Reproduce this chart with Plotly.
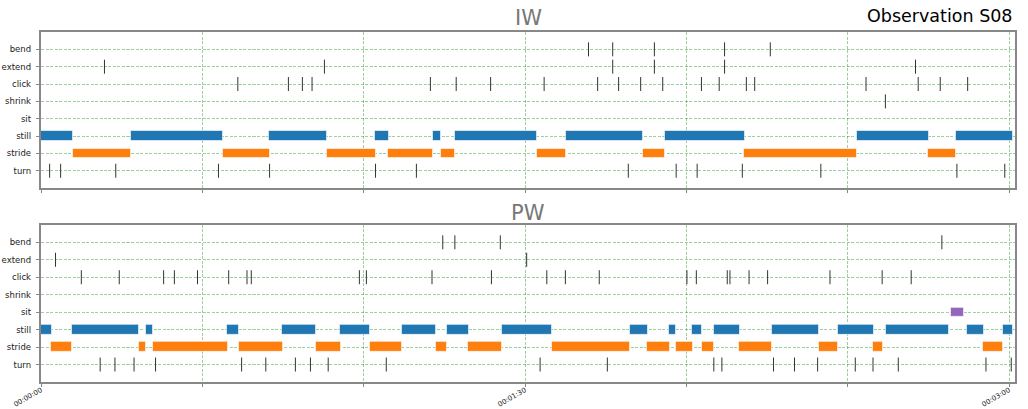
import plotly.graph_objects as go

categories = ['bend', 'extend', 'click', 'shrink', 'sit', 'still', 'stride', 'turn']
x_tickvals = [0, 30, 60, 90, 120, 150, 180]
x_ticktext = ['00:00:00', '', '', '00:01:30', '', '', '00:03:00']

# ---- IW (intervals in seconds: start, end) ----
iw_still = [(0.0, 6.0), (16.65, 33.8), (42.4, 53.2), (62.1, 64.7), (72.8, 74.4), (76.9, 92.2),
            (97.6, 111.95), (116.0, 130.9), (151.7, 165.05), (170.1, 180.7)]
iw_stride = [(5.95, 16.7), (33.75, 42.5), (53.2, 62.2), (64.6, 72.9), (74.3, 77.0), (92.2, 97.6),
             (111.9, 116.05), (130.8, 151.8), (165.0, 170.2)]
iw_sit = []
iw_turn = [1.6, 3.65, 13.9, 33.0, 42.5, 62.2, 69.8, 109.2, 118.1, 122.0, 130.4, 145.0, 170.3, 179.2]
iw_click = [36.6, 46.0, 48.6, 50.4, 72.4, 77.2, 83.6, 93.55, 103.5, 107.4, 111.5, 115.6, 122.8,
            126.1, 131.15, 132.7, 153.4, 163.1, 167.2, 172.3]
iw_extend = [11.8, 52.7, 106.3, 114.05, 127.1, 162.6]
iw_bend = [101.8, 106.3, 114.05, 127.1, 135.6]
iw_shrink = [157.0]

# ---- PW ----
pw_still = [(0.0, 2.04), (5.76, 18.3), (19.5, 20.9), (34.6, 36.9), (44.85, 51.2), (55.6, 61.2),
            (67.2, 73.5), (75.5, 79.55), (85.7, 95.0), (109.5, 112.9), (116.8, 118.1), (121.1, 122.9),
            (125.1, 129.9), (135.9, 144.7), (148.2, 154.8), (157.2, 168.8), (172.2, 175.3), (178.8, 180.7)]
pw_stride = [(1.9, 5.8), (18.2, 19.6), (20.75, 34.7), (36.8, 45.0), (51.1, 55.7), (61.1, 67.2),
             (73.4, 75.5), (79.4, 85.8), (95.0, 109.6), (112.75, 116.9), (118.1, 121.2), (122.9, 125.15),
             (129.85, 135.9), (144.7, 148.2), (154.7, 156.6), (175.2, 178.9)]
pw_sit = [(169.2, 171.6)]
pw_turn = [11.0, 13.75, 17.3, 21.3, 37.3, 41.8, 47.3, 50.1, 53.4, 64.2, 92.8, 105.3, 125.1, 126.6,
           136.2, 140.1, 144.4, 151.4, 154.7, 159.4, 175.7, 180.4]
pw_click = [7.5, 14.55, 22.8, 24.8, 29.1, 34.9, 38.3, 39.1, 59.2, 60.5, 72.7, 83.75, 94.05, 97.5,
            103.8, 120.1, 121.85, 127.6, 128.1, 131.65, 135.1, 146.7, 156.4, 161.8]
pw_extend = [2.7, 90.3]
pw_bend = [74.7, 76.95, 85.4, 167.5]
pw_shrink = []

colors = {'still': '#1f77b4', 'stride': '#ff7f0e', 'sit': '#9467bd'}
FONT = 'DejaVu Sans'

fig = go.Figure()


def add_panel(intervals, events, xa, ya):
    for cat, ivs in intervals.items():
        if not ivs:
            continue
        fig.add_trace(go.Bar(
            y=[cat] * len(ivs), x=[e - s for s, e in ivs], base=[s for s, e in ivs],
            orientation='h', width=0.55, xaxis=xa, yaxis=ya, showlegend=False,
            marker=dict(color=colors[cat], line=dict(color='rgba(255,255,255,0.6)', width=1))))
    for cat, ev in events.items():
        if not ev:
            continue
        fig.add_trace(go.Scatter(
            x=ev, y=[cat] * len(ev), mode='markers', xaxis=xa, yaxis=ya, showlegend=False,
            marker=dict(symbol='line-ns', size=10, color='#333',
                        line=dict(width=1, color='#333'))))


add_panel({'still': iw_still, 'stride': iw_stride, 'sit': iw_sit},
          {'turn': iw_turn, 'click': iw_click, 'extend': iw_extend, 'bend': iw_bend, 'shrink': iw_shrink},
          'x', 'y')
add_panel({'still': pw_still, 'stride': pw_stride, 'sit': pw_sit},
          {'turn': pw_turn, 'click': pw_click, 'extend': pw_extend, 'bend': pw_bend, 'shrink': pw_shrink},
          'x2', 'y2')

grid = dict(showgrid=True, gridcolor='rgba(0,128,0,0.38)', griddash='3px,1.5px', gridwidth=0.8)
xcommon = dict(range=[0, 181.1], tickvals=x_tickvals, ticktext=x_ticktext, showline=True, mirror=True,
               linecolor='#888', linewidth=1.5, ticks='outside', ticklen=3.5, tickcolor='#888',
               zeroline=False, tickangle=-30, automargin=False, ticklabelstandoff=-4,
               tickfont=dict(family=FONT, size=7, color='#222'), **grid)
ycommon = dict(type='category', categoryorder='array', categoryarray=categories[::-1], range=[-1, 8],
               showline=True, mirror=True, linecolor='#888', linewidth=1.5, ticks='outside', ticklen=3.5,
               tickcolor='#888', zeroline=False, automargin=False, ticklabelstandoff=3,
               tickfont=dict(family=FONT, size=8.5, color='#222'), **grid)

fig.update_layout(
    width=1028, height=409,
    margin=dict(l=41, r=13, t=32, b=27),
    plot_bgcolor='white', paper_bgcolor='white',
    barmode='overlay', bargap=0,
    xaxis=dict(anchor='y', domain=[0, 1], showticklabels=False, **xcommon),
    yaxis=dict(anchor='x', domain=[0.554, 1.0], **ycommon),
    xaxis2=dict(anchor='y2', domain=[0, 1], showticklabels=True, **xcommon),
    yaxis2=dict(anchor='x2', domain=[0.0, 0.449], **ycommon),
    annotations=[
        dict(text='IW', xref='paper', yref='paper', x=0.5, y=1.039, xanchor='center', yanchor='middle',
             showarrow=False, font=dict(family=FONT, size=21, color='#777')),
        dict(text='PW', xref='paper', yref='paper', x=0.5, y=0.483, xanchor='center', yanchor='middle',
             showarrow=False, font=dict(family=FONT, size=21, color='#777')),
        dict(text='Observation S08', xref='paper', yref='paper', x=1.0, y=1.045, xanchor='right',
             yanchor='middle', showarrow=False, font=dict(family=FONT, size=17.5, color='black')),
    ],
)

fig.write_html('out.html', config={'displayModeBar': False},
               post_script="document.body.style.margin='0';document.body.style.overflow='hidden';")
